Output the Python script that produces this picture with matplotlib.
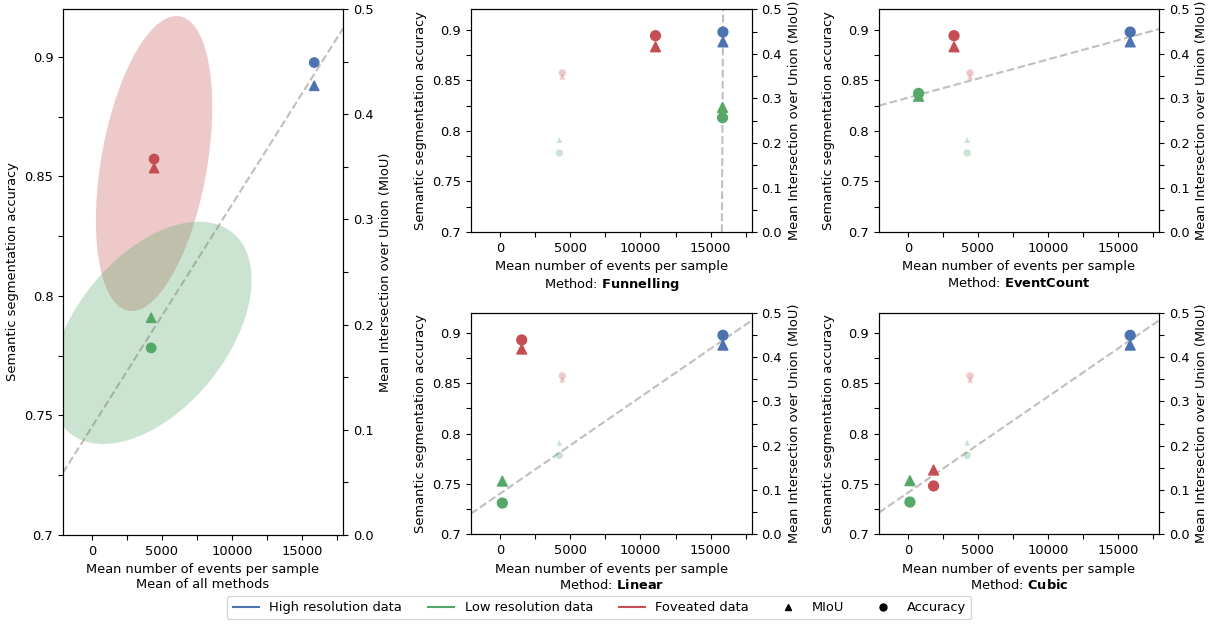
import numpy as np
import matplotlib
matplotlib.use("Agg")
import matplotlib.pyplot as plt
import matplotlib.transforms as transforms
from matplotlib.patches import Ellipse
from matplotlib.lines import Line2D

# high resolution reference (same for all methods)
events_hr = 15870
acc_hr = 0.8976
miou_hr = 0.427

methods = ["Funnelling", "EventCount", "Linear", "Cubic"]
events_low = [15840, 760, 170, 140]
acc_low = [0.813, 0.837, 0.731, 0.732]
miou_low = [0.280, 0.305, 0.120, 0.121]
events_fov = [11070, 3290, 1550, 1830]
acc_fov = [0.894, 0.894, 0.893, 0.748]
miou_fov = [0.416, 0.416, 0.418, 0.145]

BLUE = "#4C72B0"
GREEN = "#55A868"
RED = "#C44E52"

ACC_LIM = (0.7, 0.92)
MIOU_LIM = (0.0, 0.5)
XLIM = (-2070, 17930)

plt.rcParams["font.size"] = 9.4


def to_acc(miou):
    # map a MIoU value onto the accuracy axis
    miou = np.asarray(miou)
    return ACC_LIM[0] + (miou - MIOU_LIM[0]) / (MIOU_LIM[1] - MIOU_LIM[0]) * (ACC_LIM[1] - ACC_LIM[0])


def mid(acc, miou):
    return (np.asarray(acc) + to_acc(miou)) / 2


def confidence_ellipse(x, y, ax, n_std=1.0, **kwargs):
    cov = np.cov(x, y)
    pearson = cov[0, 1] / np.sqrt(cov[0, 0] * cov[1, 1])
    rx = np.sqrt(1 + pearson)
    ry = np.sqrt(1 - pearson)
    ell = Ellipse((0, 0), width=rx * 2, height=ry * 2, **kwargs)
    sx = np.sqrt(cov[0, 0]) * n_std
    sy = np.sqrt(cov[1, 1]) * n_std
    tr = transforms.Affine2D().rotate_deg(45).scale(sx, sy).translate(np.mean(x), np.mean(y))
    ell.set_transform(tr + ax.transData)
    return ax.add_patch(ell)


def setup_axes(ax, ax2, xlabel):
    ax.set_xlim(*XLIM)
    ax.set_ylim(*ACC_LIM)
    ax2.set_ylim(*MIOU_LIM)
    xt = np.arange(0, 17501, 2500)
    ax.set_xticks(xt)
    ax.set_xticklabels([f"{v:d}" if v % 5000 == 0 else "" for v in xt])
    yt = np.arange(0.7, 0.9001, 0.025)
    ax.set_yticks(yt)
    ax.set_yticklabels([f"{v:g}" if i % 2 == 0 else "" for i, v in enumerate(np.round(yt, 3))])
    rt = np.arange(0, 0.5001, 0.05)
    ax2.set_yticks(rt)
    ax2.set_yticklabels([f"{v:.1f}" if i % 2 == 0 else "" for i, v in enumerate(rt)])
    ax.set_xlabel(xlabel)
    ax.set_ylabel("Semantic segmentation accuracy")
    ax2.set_ylabel("Mean Intersection over Union (MIoU)")


fig = plt.figure(figsize=(12.23, 6.24), dpi=100)

# big left panel: mean over methods
ax = fig.add_axes([0.0515, 0.1426, 0.229, 0.843])
ax2 = ax.twinx()

mean_ev_low = np.mean(events_low)
mean_ev_fov = np.mean(events_fov)
mean_acc_low, mean_miou_low = np.mean(acc_low), np.mean(miou_low)
mean_acc_fov, mean_miou_fov = np.mean(acc_fov), np.mean(miou_fov)

confidence_ellipse(np.r_[events_fov, events_fov], np.r_[acc_fov, to_acc(miou_fov)], ax,
                   facecolor=RED, alpha=0.3, edgecolor="none", zorder=1)
confidence_ellipse(np.r_[events_low, events_low], np.r_[acc_low, to_acc(miou_low)], ax,
                   facecolor=GREEN, alpha=0.3, edgecolor="none", zorder=1)
ax.axline((mean_ev_low, mid(mean_acc_low, mean_miou_low)), (events_hr, mid(acc_hr, miou_hr)),
          color="gray", alpha=0.5, ls="--", lw=1.5, zorder=2)
ax.scatter([events_hr, mean_ev_low, mean_ev_fov], [acc_hr, mean_acc_low, mean_acc_fov],
           c=[BLUE, GREEN, RED], marker="o", s=45, zorder=3)
ax2.scatter([events_hr, mean_ev_low, mean_ev_fov], [miou_hr, mean_miou_low, mean_miou_fov],
            c=[BLUE, GREEN, RED], marker="^", s=45, zorder=3)
setup_axes(ax, ax2, "Mean number of events per sample\nMean of all methods")

# small panels per method
positions = [
    [0.385, 0.628, 0.2298, 0.357],
    [0.7187, 0.628, 0.229, 0.357],
    [0.385, 0.1438, 0.2298, 0.355],
    [0.7187, 0.1438, 0.229, 0.355],
]
for i, name in enumerate(methods):
    a = fig.add_axes(positions[i])
    a2 = a.twinx()
    # faded means
    a.scatter([mean_ev_low, mean_ev_fov], [mean_acc_low, mean_acc_fov],
              c=[GREEN, RED], marker="o", s=28, alpha=0.3, linewidths=0, zorder=2)
    a2.scatter([mean_ev_low, mean_ev_fov], [mean_miou_low, mean_miou_fov],
               c=[GREEN, RED], marker="^", s=18, alpha=0.3, linewidths=0, zorder=2)
    a.axline((events_low[i], mid(acc_low[i], miou_low[i])), (events_hr, mid(acc_hr, miou_hr)),
             color="gray", alpha=0.5, ls="--", lw=1.5, zorder=1)
    a.scatter([events_hr, events_low[i], events_fov[i]], [acc_hr, acc_low[i], acc_fov[i]],
              c=[BLUE, GREEN, RED], marker="o", s=50, zorder=3)
    a2.scatter([events_hr, events_low[i], events_fov[i]], [miou_hr, miou_low[i], miou_fov[i]],
               c=[BLUE, GREEN, RED], marker="^", s=50, zorder=3)
    setup_axes(a, a2, "Mean number of events per sample\nMethod: $\\bf{" + name + "}$")

handles = [
    Line2D([], [], color=BLUE, label="High resolution data"),
    Line2D([], [], color=GREEN, label="Low resolution data"),
    Line2D([], [], color=RED, label="Foveated data"),
    Line2D([], [], color="k", marker="^", ls="None", markersize=5, label="MIoU"),
    Line2D([], [], color="k", marker="o", ls="None", markersize=5, label="Accuracy"),
]
fig.legend(handles=handles, loc="lower center", bbox_to_anchor=(0.49, -0.003), ncol=5)

fig.savefig("out.png", dpi=100)
